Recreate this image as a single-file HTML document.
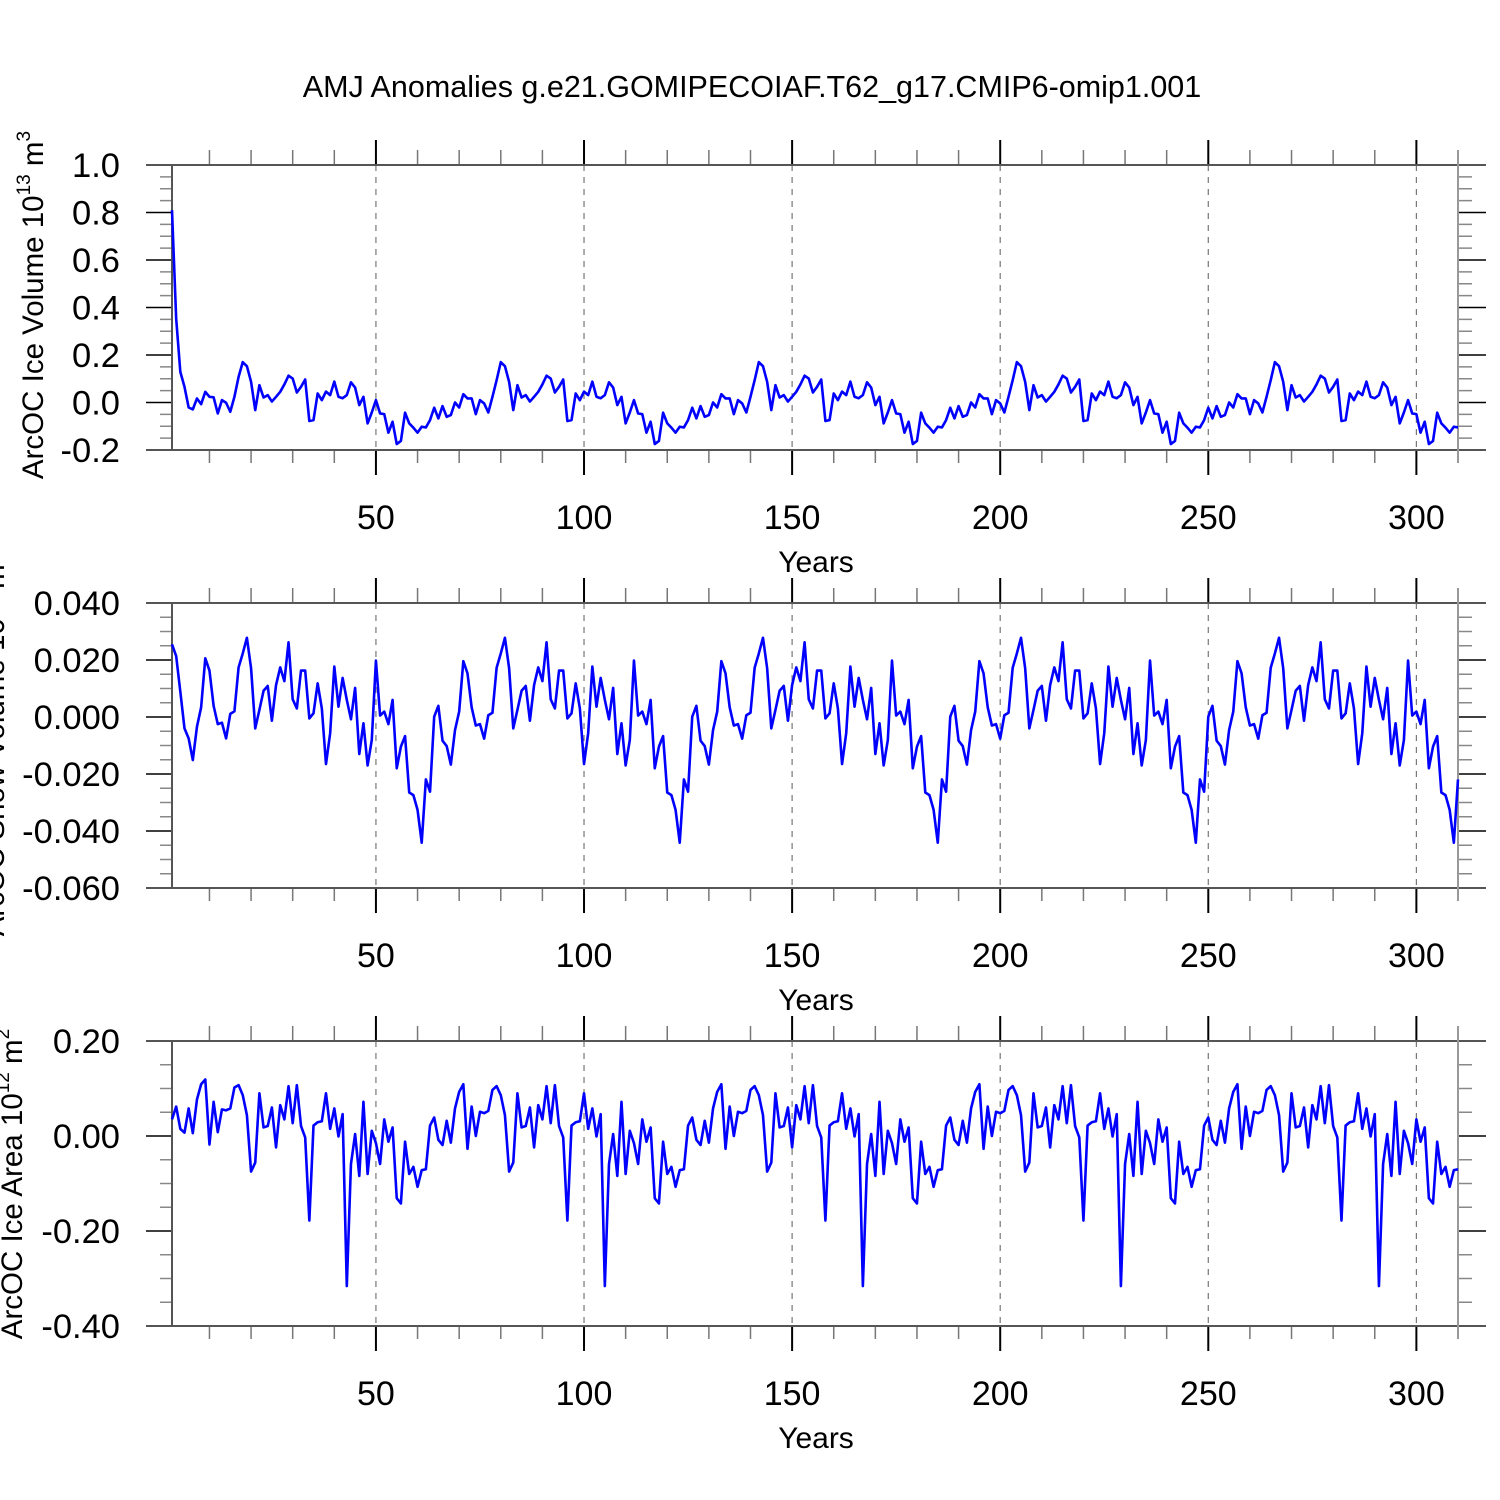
<!DOCTYPE html>
<html><head><meta charset="utf-8"><style>
html,body{margin:0;padding:0;background:#fff;}
svg{display:block;font-family:"Liberation Sans",Arial,sans-serif;}
</style></head><body>
<svg id="chart" width="1500" height="1500" viewBox="0 0 1500 1500" xmlns="http://www.w3.org/2000/svg">
<rect width="1500" height="1500" fill="#fff"/>
<text x="752" y="97" font-size="30.5" text-anchor="middle">AMJ Anomalies g.e21.GOMIPECOIAF.T62_g17.CMIP6-omip1.001</text>
</svg>
<script>
const years = Array.from({length: 310}, (_, i) => i + 1);
const xTickLabels = [50, 100, 150, 200, 250, 300];
const iceVolume = [
0.81,0.354,0.129,0.066,-0.021,-0.029,0.017,-0.007,0.045,0.024,0.022,-0.046,0.01,-0.001,-0.039,0.024,0.108,0.17,0.153,0.087,-0.032,0.073,0.021,0.031,0.004,0.024,0.045,0.076,0.113,0.101,0.042,0.066,0.097,-0.078,-0.074,0.038,0.01,0.046,0.031,0.088,0.024,0.018,0.031,0.085,0.063,-0.011,0.024,-0.088,-0.042,0.01,-0.046,-0.049,-0.127,-0.081,-0.175,-0.162,-0.043,-0.088,-0.106,-0.127,-0.102,-0.105,
-0.074,-0.022,-0.067,-0.015,-0.06,-0.053,0,-0.021,0.035,0.017,0.017,-0.049,0.01,-0.004,-0.042,0.024,0.094,0.17,0.153,0.087,-0.032,0.073,0.021,0.031,0.004,0.024,0.045,0.076,0.113,0.101,0.042,0.066,0.097,-0.078,-0.074,0.038,0.01,0.046,0.031,0.088,0.024,0.018,0.031,0.085,0.063,-0.011,0.024,-0.088,-0.042,0.01,-0.046,-0.049,-0.127,-0.081,-0.175,-0.162,-0.043,-0.088,-0.106,-0.127,-0.102,-0.105,
-0.074,-0.022,-0.067,-0.015,-0.06,-0.053,0,-0.021,0.035,0.017,0.017,-0.049,0.01,-0.004,-0.042,0.024,0.094,0.17,0.153,0.087,-0.032,0.073,0.021,0.031,0.004,0.024,0.045,0.076,0.113,0.101,0.042,0.066,0.097,-0.078,-0.074,0.038,0.01,0.046,0.031,0.088,0.024,0.018,0.031,0.085,0.063,-0.011,0.024,-0.088,-0.042,0.01,-0.046,-0.049,-0.127,-0.081,-0.175,-0.162,-0.043,-0.088,-0.106,-0.127,-0.102,-0.105,
-0.074,-0.022,-0.067,-0.015,-0.06,-0.053,0,-0.021,0.035,0.017,0.017,-0.049,0.01,-0.004,-0.042,0.024,0.094,0.17,0.153,0.087,-0.032,0.073,0.021,0.031,0.004,0.024,0.045,0.076,0.113,0.101,0.042,0.066,0.097,-0.078,-0.074,0.038,0.01,0.046,0.031,0.088,0.024,0.018,0.031,0.085,0.063,-0.011,0.024,-0.088,-0.042,0.01,-0.046,-0.049,-0.127,-0.081,-0.175,-0.162,-0.043,-0.088,-0.106,-0.127,-0.102,-0.105,
-0.074,-0.022,-0.067,-0.015,-0.06,-0.053,0,-0.021,0.035,0.017,0.017,-0.049,0.01,-0.004,-0.042,0.024,0.094,0.17,0.153,0.087,-0.032,0.073,0.021,0.031,0.004,0.024,0.045,0.076,0.113,0.101,0.042,0.066,0.097,-0.078,-0.074,0.038,0.01,0.046,0.031,0.088,0.024,0.018,0.031,0.085,0.063,-0.011,0.024,-0.088,-0.042,0.01,-0.046,-0.049,-0.127,-0.081,-0.175,-0.162,-0.043,-0.088,-0.106,-0.127,-0.102,-0.105
];
const snowVolume = [
0.0255,0.0214,0.0089,-0.004,-0.0075,-0.0151,-0.0034,0.0034,0.0206,0.0163,0.0039,-0.0025,-0.002,-0.0075,0.0011,0.002,0.0174,0.0223,0.0278,0.0171,-0.004,0.0025,0.0092,0.0109,-0.0013,0.0112,0.0174,0.0126,0.0262,0.0062,0.003,0.0163,0.0163,-0.0005,0.0013,0.0118,0.003,-0.0165,-0.0057,0.0177,0.0036,0.0137,0.006,-0.0008,0.0102,-0.013,-0.0022,-0.017,-0.0081,0.0198,0.0005,0.0019,-0.0025,0.006,-0.018,-0.0104,-0.0067,-0.0265,-0.0274,-0.0326,-0.0441,-0.0219,
-0.0262,0.0001,0.0039,-0.0083,-0.0102,-0.0167,-0.0046,0.0019,0.0196,0.0153,0.0034,-0.003,-0.0025,-0.0076,0.0006,0.0015,0.0173,0.0223,0.0278,0.0171,-0.004,0.0025,0.0092,0.0109,-0.0013,0.0112,0.0174,0.0126,0.0262,0.0062,0.003,0.0163,0.0163,-0.0005,0.0013,0.0118,0.003,-0.0165,-0.0057,0.0177,0.0036,0.0137,0.006,-0.0008,0.0102,-0.013,-0.0022,-0.017,-0.0081,0.0198,0.0005,0.0019,-0.0025,0.006,-0.018,-0.0104,-0.0067,-0.0265,-0.0274,-0.0326,-0.0441,-0.0219,
-0.0262,0.0001,0.0039,-0.0083,-0.0102,-0.0167,-0.0046,0.0019,0.0196,0.0153,0.0034,-0.003,-0.0025,-0.0076,0.0006,0.0015,0.0173,0.0223,0.0278,0.0171,-0.004,0.0025,0.0092,0.0109,-0.0013,0.0112,0.0174,0.0126,0.0262,0.0062,0.003,0.0163,0.0163,-0.0005,0.0013,0.0118,0.003,-0.0165,-0.0057,0.0177,0.0036,0.0137,0.006,-0.0008,0.0102,-0.013,-0.0022,-0.017,-0.0081,0.0198,0.0005,0.0019,-0.0025,0.006,-0.018,-0.0104,-0.0067,-0.0265,-0.0274,-0.0326,-0.0441,-0.0219,
-0.0262,0.0001,0.0039,-0.0083,-0.0102,-0.0167,-0.0046,0.0019,0.0196,0.0153,0.0034,-0.003,-0.0025,-0.0076,0.0006,0.0015,0.0173,0.0223,0.0278,0.0171,-0.004,0.0025,0.0092,0.0109,-0.0013,0.0112,0.0174,0.0126,0.0262,0.0062,0.003,0.0163,0.0163,-0.0005,0.0013,0.0118,0.003,-0.0165,-0.0057,0.0177,0.0036,0.0137,0.006,-0.0008,0.0102,-0.013,-0.0022,-0.017,-0.0081,0.0198,0.0005,0.0019,-0.0025,0.006,-0.018,-0.0104,-0.0067,-0.0265,-0.0274,-0.0326,-0.0441,-0.0219,
-0.0262,0.0001,0.0039,-0.0083,-0.0102,-0.0167,-0.0046,0.0019,0.0196,0.0153,0.0034,-0.003,-0.0025,-0.0076,0.0006,0.0015,0.0173,0.0223,0.0278,0.0171,-0.004,0.0025,0.0092,0.0109,-0.0013,0.0112,0.0174,0.0126,0.0262,0.0062,0.003,0.0163,0.0163,-0.0005,0.0013,0.0118,0.003,-0.0165,-0.0057,0.0177,0.0036,0.0137,0.006,-0.0008,0.0102,-0.013,-0.0022,-0.017,-0.0081,0.0198,0.0005,0.0019,-0.0025,0.006,-0.018,-0.0104,-0.0067,-0.0265,-0.0274,-0.0326,-0.0441,-0.0219
];
const iceArea = [
0.035,0.062,0.015,0.007,0.058,0.006,0.077,0.109,0.119,-0.018,0.072,0.008,0.056,0.054,0.058,0.102,0.107,0.086,0.044,-0.075,-0.056,0.09,0.018,0.021,0.06,-0.024,0.065,0.035,0.105,0.027,0.107,0.021,-0.003,-0.178,0.022,0.029,0.031,0.09,0.015,0.058,-0.001,0.046,-0.316,-0.059,0.004,-0.084,0.072,-0.08,0.011,-0.015,-0.059,0.035,-0.012,0.018,-0.131,-0.142,-0.012,-0.08,-0.065,-0.107,-0.072,-0.07,
0.022,0.039,-0.008,-0.019,0.032,-0.014,0.058,0.093,0.109,-0.027,0.062,0,0.051,0.048,0.053,0.097,0.105,0.086,0.044,-0.075,-0.056,0.09,0.018,0.021,0.06,-0.024,0.065,0.035,0.105,0.027,0.107,0.021,-0.003,-0.178,0.022,0.029,0.031,0.09,0.015,0.058,-0.001,0.046,-0.316,-0.059,0.004,-0.084,0.072,-0.08,0.011,-0.015,-0.059,0.035,-0.012,0.018,-0.131,-0.142,-0.012,-0.08,-0.065,-0.107,-0.072,-0.07,
0.022,0.039,-0.008,-0.019,0.032,-0.014,0.058,0.093,0.109,-0.027,0.062,0,0.051,0.048,0.053,0.097,0.105,0.086,0.044,-0.075,-0.056,0.09,0.018,0.021,0.06,-0.024,0.065,0.035,0.105,0.027,0.107,0.021,-0.003,-0.178,0.022,0.029,0.031,0.09,0.015,0.058,-0.001,0.046,-0.316,-0.059,0.004,-0.084,0.072,-0.08,0.011,-0.015,-0.059,0.035,-0.012,0.018,-0.131,-0.142,-0.012,-0.08,-0.065,-0.107,-0.072,-0.07,
0.022,0.039,-0.008,-0.019,0.032,-0.014,0.058,0.093,0.109,-0.027,0.062,0,0.051,0.048,0.053,0.097,0.105,0.086,0.044,-0.075,-0.056,0.09,0.018,0.021,0.06,-0.024,0.065,0.035,0.105,0.027,0.107,0.021,-0.003,-0.178,0.022,0.029,0.031,0.09,0.015,0.058,-0.001,0.046,-0.316,-0.059,0.004,-0.084,0.072,-0.08,0.011,-0.015,-0.059,0.035,-0.012,0.018,-0.131,-0.142,-0.012,-0.08,-0.065,-0.107,-0.072,-0.07,
0.022,0.039,-0.008,-0.019,0.032,-0.014,0.058,0.093,0.109,-0.027,0.062,0,0.051,0.048,0.053,0.097,0.105,0.086,0.044,-0.075,-0.056,0.09,0.018,0.021,0.06,-0.024,0.065,0.035,0.105,0.027,0.107,0.021,-0.003,-0.178,0.022,0.029,0.031,0.09,0.015,0.058,-0.001,0.046,-0.316,-0.059,0.004,-0.084,0.072,-0.08,0.011,-0.015,-0.059,0.035,-0.012,0.018,-0.131,-0.142,-0.012,-0.08,-0.065,-0.107,-0.072,-0.07
];
const volTicks = ["1.0","0.8","0.6","0.4","0.2","0.0","-0.2"];
const snowTicks = ["0.040","0.020","0.000","-0.020","-0.040","-0.060"];
const areaTicks = ["0.20","0.00","-0.20","-0.40"];

const NS = "http://www.w3.org/2000/svg";
const svg = document.getElementById("chart");
function mk(tag, attrs, parent) {
  const e = document.createElementNS(NS, tag);
  for (const k in attrs) e.setAttribute(k, attrs[k]);
  (parent || svg).appendChild(e);
  return e;
}
const X0 = 172, X1 = 1458, FL = 146, FR = 1486;
const xScale = yr => X0 + (yr - 1) * (X1 - X0) / 309;

function panel(opts) {
  const g = mk("g", {});
  
  
  const top = opts.top, bot = opts.bot;
  const yScale = v => top + (opts.ymax - v) / (opts.ymax - opts.ymin) * (bot - top);
  xTickLabels.forEach(t => {
    const l = mk("line", {x1: xScale(t), x2: xScale(t), y1: top, y2: bot, stroke: "#777", "stroke-width": 1.2, "stroke-dasharray": "6,6"}, g);
    
    
  });
  for (let t = 10; t <= 310; t += 10) {
    const major = t % 50 === 0;
    const x = xScale(t);
    mk("line", {x1: x, x2: x, y1: top, y2: top - (major ? 25 : 15), stroke: major ? "#000" : "#777", "stroke-width": major ? 2 : 1.5}, g);
    mk("line", {x1: x, x2: x, y1: bot, y2: bot + (major ? 25 : 13), stroke: major ? "#000" : "#777", "stroke-width": major ? 2 : 1.5}, g);
  }
  const n = opts.ticks.length;
  for (let i = 0; i < n; i++) {
    const v = opts.ymax - i * (opts.ymax - opts.ymin) / (n - 1);
    const y = yScale(v);
    mk("line", {x1: FL, x2: X0, y1: y, y2: y, stroke: "#000", "stroke-width": 1.5}, g);
    mk("line", {x1: X1, x2: FR, y1: y, y2: y, stroke: "#000", "stroke-width": 1.5}, g);
    const tl = mk("text", {x: 120, y: y + 12, "font-size": 34.5, "text-anchor": "end"}, g);
    tl.textContent = opts.ticks[i];
    
    
    if (i < n - 1) {
      const step = (yScale(opts.ymin) - yScale(opts.ymax)) / (n - 1) / 4;
      for (let m = 1; m <= 3; m++) {
        const ym = y + m * step;
        mk("line", {x1: 160, x2: X0, y1: ym, y2: ym, stroke: "#888", "stroke-width": 1.5}, g);
        mk("line", {x1: X1, x2: 1472, y1: ym, y2: ym, stroke: "#888", "stroke-width": 1.5}, g);
      }
    }
  }
  mk("line", {x1: FL, x2: FR, y1: top, y2: top, stroke: "#555", "stroke-width": 2}, g);
  mk("line", {x1: FL, x2: FR, y1: bot, y2: bot, stroke: "#555", "stroke-width": 2}, g);
  mk("line", {x1: X0, x2: X0, y1: top, y2: bot, stroke: "#555", "stroke-width": 2}, g);
  mk("line", {x1: X1, x2: X1, y1: top - 12, y2: bot + 12, stroke: "#999", "stroke-width": 2}, g);
  xTickLabels.forEach(t => {
    const tl = mk("text", {x: xScale(t), y: bot + 79, "font-size": 34, "text-anchor": "middle"}, g);
    tl.textContent = t;
    
    
  });
  const xt = mk("text", {x: 816, y: bot + 122, "font-size": 30, "text-anchor": "middle"}, g);
  xt.textContent = "Years";
  
  
  const cy = opts.titleY;
  const yt = mk("text", {x: opts.titleX, y: cy, "font-size": 29.5, "text-anchor": "middle", transform: `rotate(-90 ${opts.titleX} ${cy})`}, g);
  
  
  yt.innerHTML = opts.title;
  const d = opts.data.map((v, i) => (i ? "L" : "M") + xScale(years[i]).toFixed(2) + "," + yScale(v).toFixed(2)).join("");
  const p = mk("path", {d: d, fill: "none", stroke: "#0000ff", "stroke-width": 2.6, "stroke-linejoin": "round"}, g);
  
  
}

panel({name: "ice-volume-panel", top: 165, bot: 450, ymax: 1.0, ymin: -0.2, ticks: volTicks, data: iceVolume, titleX: 43, titleY: 305,
  title: 'ArcOC Ice Volume 10<tspan dy="-13" font-size="19">13</tspan><tspan dy="13"> m</tspan><tspan dy="-13" font-size="19">3</tspan>'});
panel({name: "snow-volume-panel", top: 603, bot: 888, ymax: 0.04, ymin: -0.06, ticks: snowTicks, data: snowVolume, titleX: 4, titleY: 745,
  title: 'ArcOC Snow Volume 10<tspan dy="-13" font-size="19">13</tspan><tspan dy="13"> m</tspan><tspan dy="-13" font-size="19">3</tspan>'});
panel({name: "ice-area-panel", top: 1041, bot: 1326, ymax: 0.2, ymin: -0.4, ticks: areaTicks, data: iceArea, titleX: 22, titleY: 1184,
  title: 'ArcOC Ice Area 10<tspan dy="-13" font-size="19">12</tspan><tspan dy="13"> m</tspan><tspan dy="-13" font-size="19">2</tspan>'});
</script>
</body></html>
